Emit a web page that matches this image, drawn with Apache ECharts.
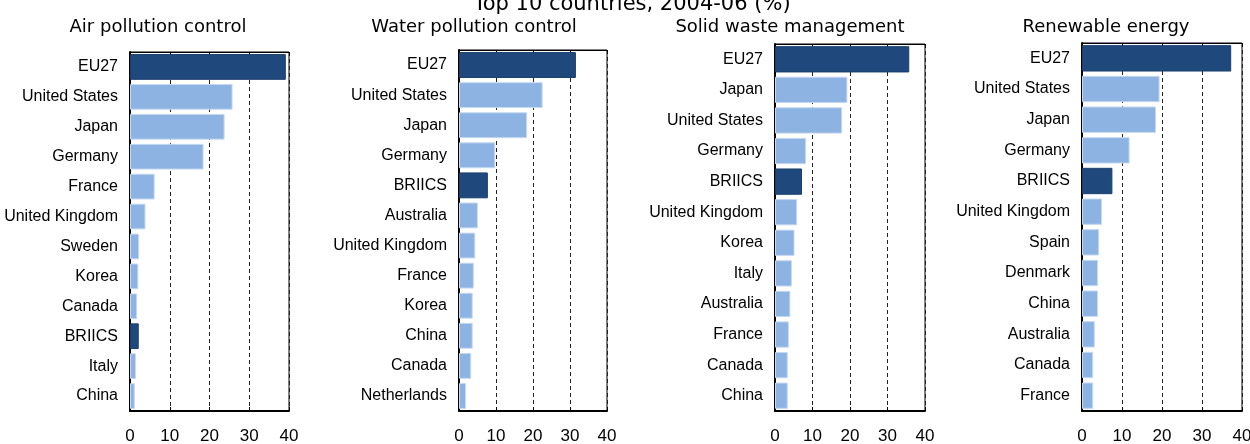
<!DOCTYPE html>
<html>
<head>
<meta charset="utf-8">
<script src="https://cdn.jsdelivr.net/npm/echarts@6/dist/echarts.min.js"></script>
<style>
html,body{margin:0;padding:0;background:#fff;}
#chart{width:1250px;height:444px;}
</style>
</head>
<body>
<div id="chart"></div>
<script>
const mainTitle = "Top 10 countries, 2004-06 (%)";
const panelTitles = ["Air pollution control", "Water pollution control", "Solid waste management", "Renewable energy"];

const airCats = ["EU27", "United States", "Japan", "Germany", "France", "United Kingdom", "Sweden", "Korea", "Canada", "BRIICS", "Italy", "China"];
const airVals = [39.2, 25.8, 23.8, 18.5, 6.2, 3.9, 2.3, 2.1, 1.8, 2.2, 1.5, 1.2];

const waterCats = ["EU27", "United States", "Japan", "Germany", "BRIICS", "Australia", "United Kingdom", "France", "Korea", "China", "Canada", "Netherlands"];
const waterVals = [31.6, 22.6, 18.4, 9.8, 7.8, 5.1, 4.4, 4.0, 3.7, 3.7, 3.3, 1.9];

const wasteCats = ["EU27", "Japan", "United States", "Germany", "BRIICS", "United Kingdom", "Korea", "Italy", "Australia", "France", "Canada", "China"];
const wasteVals = [35.8, 19.3, 17.9, 8.3, 7.2, 5.9, 5.2, 4.5, 4.1, 3.7, 3.4, 3.4];

const renewCats = ["EU27", "United States", "Japan", "Germany", "BRIICS", "United Kingdom", "Spain", "Denmark", "China", "Australia", "Canada", "France"];
const renewVals = [37.3, 19.4, 18.5, 11.9, 7.6, 5.0, 4.3, 4.0, 4.0, 3.2, 2.8, 2.8];

const xTicks = [0, 10, 20, 30, 40];
const aggregates = ["EU27", "BRIICS"];

const panels = [
  {cats: airCats, vals: airVals},
  {cats: waterCats, vals: waterVals},
  {cats: wasteCats, vals: wasteVals},
  {cats: renewCats, vals: renewVals}
];

// layout
const gridBoxes = [
  {left: 130, top: 52, width: 159, height: 359},
  {left: 459, top: 50, width: 148, height: 361},
  {left: 775, top: 44, width: 150, height: 367},
  {left: 1082, top: 43, width: 160, height: 368}
];
const titleCenters = [153, 469, 785, 1101];

const DARK = '#1f497d';
const LIGHT = '#8db3e2';
const labelFont = "'Liberation Sans', Arial, sans-serif";
const titleFont = "'DejaVu Sans', Verdana, sans-serif";

const option = {
  animation: false,
  backgroundColor: '#fff',
  title: [
    {text: mainTitle, left: 627, textAlign: 'center', top: -11,
     textStyle: {fontFamily: titleFont, fontSize: 21, fontWeight: 'normal', color: '#000'}}
  ].concat(panelTitles.map((t, i) => ({
    text: t, left: titleCenters[i], textAlign: 'center', top: 13,
    textStyle: {fontFamily: titleFont, fontSize: 18, fontWeight: 'normal', color: '#000'}
  }))),
  grid: gridBoxes.map(g => ({left: g.left, top: g.top, width: g.width, height: g.height,
    show: true, borderColor: '#000', borderWidth: 1, containLabel: false, outerBoundsMode: 'none'})),
  xAxis: [],
  yAxis: [],
  series: []
};

panels.forEach((p, i) => {
  option.xAxis.push({
    type: 'value', gridIndex: i, min: xTicks[0], max: xTicks[xTicks.length - 1], interval: 10,
    position: 'bottom',
    axisLine: {show: true, lineStyle: {color: '#000', width: 2}},
    axisTick: {show: true, inside: true, length: 4, lineStyle: {color: '#000', width: 1}},
    axisLabel: {show: true, margin: 17, color: '#000', fontFamily: labelFont, fontSize: 17,
      formatter: v => String(v)},
    splitLine: {show: true, lineStyle: {color: '#222', type: [4, 3], width: 1}}
  });
  option.xAxis.push({
    type: 'value', gridIndex: i, min: xTicks[0], max: xTicks[xTicks.length - 1], interval: 10,
    position: 'top',
    axisLine: {show: true, lineStyle: {color: '#000', width: 1}},
    axisTick: {show: true, inside: true, length: 4, lineStyle: {color: '#000', width: 1}},
    axisLabel: {show: false},
    splitLine: {show: false}
  });
  option.yAxis.push({
    type: 'category', gridIndex: i, data: p.cats, inverse: true,
    axisLine: {show: true, lineStyle: {color: '#000', width: 2}},
    axisTick: {show: false},
    axisLabel: {color: '#000', fontFamily: labelFont, fontSize: 16, margin: 12},
    splitLine: {show: false}
  });
  option.series.push({
    type: 'bar', xAxisIndex: i * 2, yAxisIndex: i, barCategoryGap: '14%',
    data: p.vals.map((v, k) => {
      const agg = aggregates.indexOf(p.cats[k]) >= 0;
      return {value: v, itemStyle: {color: agg ? DARK : LIGHT,
        borderColor: agg ? '#1a3f6c' : '#c5d9f1', borderWidth: 1}};
    })
  });
});

const chart = echarts.init(document.getElementById('chart'), null, {renderer: 'canvas'});
chart.setOption(option);
</script>
</body>
</html>
